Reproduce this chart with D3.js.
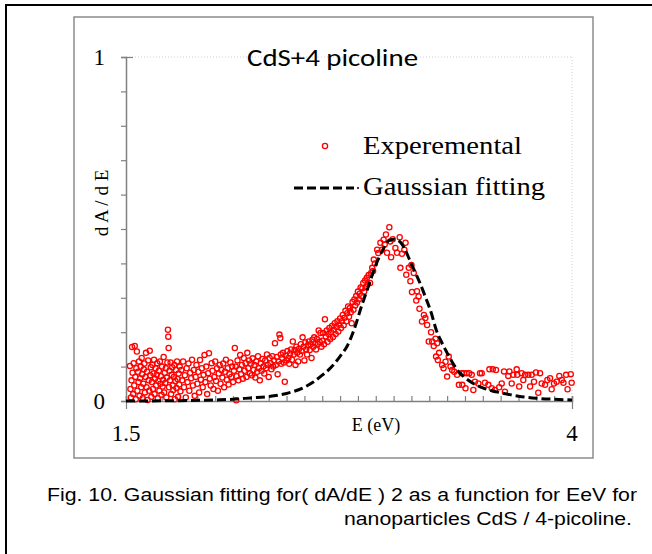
<!DOCTYPE html>
<html>
<head>
<meta charset="utf-8">
<script src="https://cdn.jsdelivr.net/npm/d3@7"></script>
<style>
  body { margin: 0; background: #fff; }
  svg { display: block; }
</style>
</head>
<body>
<div class="site-wrapper-inner"></div>
<script>
var experimental = [
 [1.522,0.102],[1.525,0.035],[1.528,0.010],[1.531,0.060],[1.534,0.157],[1.537,0.082],[1.540,0.020],[1.543,0.110],
 [1.546,0.045],[1.549,0.160],[1.552,0.070],[1.555,0.005],[1.558,0.095],[1.561,0.144],[1.564,0.030],[1.567,0.085],
 [1.570,0.055],[1.573,0.115],[1.576,0.015],[1.579,0.066],[1.582,0.100],[1.585,0.040],[1.588,0.125],[1.591,0.078],
 [1.594,0.008],[1.597,0.050],[1.600,0.092],[1.603,0.109],[1.606,0.025],[1.609,0.070],[1.612,0.140],[1.615,0.040],
 [1.618,0.085],[1.621,0.003],[1.624,0.118],[1.627,0.060],[1.630,0.030],[1.633,0.146],[1.636,0.075],[1.639,0.098],
 [1.642,0.012],[1.645,0.055],[1.648,0.105],[1.651,0.035],[1.654,0.080],[1.657,0.120],[1.660,0.020],[1.663,0.065],
 [1.666,0.095],[1.669,0.045],[1.672,0.076],[1.675,0.110],[1.678,0.008],[1.681,0.058],[1.684,0.088],[1.687,0.030],
 [1.690,0.115],[1.693,0.050],[1.696,0.072],[1.699,0.018],[1.702,0.100],[1.705,0.042],[1.708,0.062],[1.711,0.128],
 [1.714,0.025],[1.717,0.082],[1.720,0.052],[1.723,0.095],[1.726,0.010],[1.729,0.068],[1.732,0.112],[1.735,0.207],
 [1.737,0.187],[1.739,0.154],[1.741,0.040],[1.744,0.088],[1.747,0.060],[1.750,0.112],[1.753,0.020],[1.756,0.076],
 [1.759,0.098],[1.762,0.045],[1.765,0.032],[1.768,0.070],[1.771,0.105],[1.774,0.005],[1.777,0.058],[1.780,0.090],
 [1.783,0.038],[1.786,0.115],[1.789,0.064],[1.792,0.012],[1.795,0.080],[1.798,0.048],[1.801,0.100],
 [1.805,0.028],[1.810,0.090],[1.815,0.060],[1.820,0.115],[1.825,0.040],[1.830,0.075],[1.835,0.010],[1.840,0.095],
 [1.845,0.055],[1.850,0.109],[1.855,0.030],[1.860,0.082],[1.865,0.066],[1.870,0.120],[1.875,0.045],[1.880,0.090],
 [1.885,0.015],[1.890,0.070],[1.895,0.105],[1.900,0.050],[1.905,0.085],[1.910,0.025],[1.915,0.119],[1.920,0.062],
 [1.925,0.095],[1.930,0.040],[1.935,0.076],[1.940,0.134],[1.945,0.055],[1.950,0.100],[1.955,0.020],[1.960,0.081],
 [1.965,0.139],[1.970,0.065],[1.975,0.045],[1.980,0.110],[1.985,0.088],[1.990,0.035],[1.995,0.070],[2.000,0.115],
 [2.005,0.058],[2.010,0.095],[2.015,0.030],[2.020,0.080],[2.025,0.105],[2.030,0.050],[2.035,0.090],[2.040,0.068],
 [2.045,0.109],[2.050,0.040],[2.055,0.085],[2.060,0.120],[2.065,0.062],[2.070,0.095],[2.075,0.048],[2.080,0.078],
 [2.085,0.112],[2.090,0.070],[2.095,0.100],[2.100,0.055],[2.105,0.088],[2.110,0.154],[2.115,0.100],[2.118,0.002],
 [2.120,0.072],[2.125,0.118],[2.130,0.060],[2.135,0.092],[2.140,0.134],[2.145,0.078],[2.150,0.105],[2.155,0.065],
 [2.160,0.125],[2.165,0.088],[2.170,0.110],[2.175,0.070],[2.180,0.140],[2.185,0.095],[2.190,0.118],[2.195,0.080],
 [2.200,0.109],
 [2.205,0.075],[2.210,0.124],[2.215,0.090],[2.220,0.105],[2.225,0.068],[2.230,0.115],[2.235,0.085],[2.240,0.130],
 [2.245,0.095],[2.250,0.060],[2.255,0.110],[2.260,0.088],[2.265,0.122],[2.270,0.100],[2.275,0.080],[2.280,0.118],
 [2.285,0.095],[2.290,0.135],[2.295,0.105],[2.300,0.070],[2.305,0.125],[2.310,0.110],[2.315,0.092],[2.320,0.130],
 [2.325,0.100],[2.330,0.118],[2.335,0.168],[2.340,0.105],[2.345,0.128],[2.350,0.078],[2.355,0.115],[2.360,0.193],
 [2.365,0.183],[2.368,0.135],[2.370,0.108],[2.375,0.125],[2.380,0.140],[2.385,0.112],[2.390,0.056],[2.395,0.132],
 [2.400,0.118],[2.405,0.145],[2.410,0.125],[2.415,0.108],[2.420,0.138],[2.425,0.150],[2.430,0.120],[2.435,0.173],
 [2.440,0.135],[2.445,0.148],[2.450,0.105],[2.455,0.158],[2.460,0.140],[2.465,0.115],[2.470,0.152],[2.475,0.135],
 [2.480,0.165],[2.485,0.145],[2.490,0.185],[2.495,0.158],[2.500,0.118],[2.505,0.170],[2.510,0.150],[2.515,0.135],
 [2.520,0.162],[2.525,0.173],[2.530,0.148],[2.535,0.165],[2.540,0.125],[2.545,0.178],[2.550,0.158],[2.555,0.185],
 [2.560,0.168],[2.565,0.150],[2.570,0.180],[2.575,0.165],[2.580,0.205],[2.585,0.172],[2.590,0.198],[2.595,0.158],
 [2.600,0.175],[2.605,0.198],[2.610,0.165],[2.615,0.238],[2.620,0.188],[2.625,0.205],[2.630,0.172],[2.635,0.195],
 [2.640,0.212],[2.645,0.180],[2.650,0.200],[2.655,0.218],[2.660,0.186],[2.665,0.207],[2.670,0.226],[2.675,0.195],
 [2.680,0.215],[2.685,0.232],[2.690,0.202],[2.695,0.222],[2.700,0.240],[2.705,0.212],[2.710,0.232],[2.715,0.250],
 [2.720,0.220],[2.725,0.242],[2.730,0.262],[2.735,0.232],[2.740,0.255],[2.745,0.275],[2.750,0.245],[2.755,0.270],
 [2.760,0.258],[2.765,0.226],[2.770,0.288],[2.775,0.265],[2.780,0.295],[2.785,0.278],[2.790,0.305],[2.795,0.286],
 [2.800,0.318],[2.805,0.296],[2.810,0.312],[2.815,0.330],[2.820,0.305],[2.825,0.328],[2.830,0.343],[2.835,0.318],
 [2.840,0.350],[2.845,0.332],[2.850,0.358],[2.855,0.340],[2.860,0.366],[2.868,0.343],
 [2.874,0.372],[2.880,0.387],[2.885,0.378],[2.889,0.411],[2.895,0.400],[2.908,0.440],[2.914,0.430],[2.926,0.460],
 [2.935,0.440],[2.944,0.469],[2.950,0.455],[2.957,0.484],[2.963,0.431],[2.976,0.505],[2.981,0.464],[2.986,0.418],
 [2.995,0.470],[3.010,0.445],[3.019,0.431],[3.034,0.476],[3.038,0.387],[3.047,0.428],[3.060,0.440],[3.067,0.460],
 [3.071,0.367],[3.085,0.387],[3.094,0.348],[3.100,0.395],[3.113,0.372],[3.103,0.317],[3.131,0.319],[3.140,0.304],
 [3.127,0.292],[3.145,0.268],[3.159,0.231],[3.170,0.250],[3.178,0.241],[3.188,0.221],[3.197,0.173],[3.210,0.200],
 [3.216,0.173],[3.225,0.160],[3.235,0.181],[3.244,0.168],[3.238,0.129],[3.248,0.119],[3.255,0.140],[3.272,0.105],
 [3.280,0.095],[3.291,0.114],[3.300,0.071],[3.309,0.129],[3.319,0.100],[3.328,0.090],[3.340,0.085],[3.356,0.076],
 [3.366,0.047],[3.382,0.081],[3.385,0.047],[3.394,0.081],[3.403,0.037],[3.410,0.081],[3.424,0.081],[3.438,0.076],
 [3.447,0.032],[3.456,0.056],[3.475,0.051],[3.484,0.081],[3.494,0.081],[3.512,0.053],[3.531,0.047],[3.537,0.092],
 [3.550,0.037],[3.556,0.092],[3.568,0.032],[3.574,0.090],[3.592,0.040],[3.606,0.051],[3.619,0.086],[3.624,0.027],
 [3.643,0.073],[3.649,0.086],[3.662,0.051],[3.671,0.076],[3.690,0.092],[3.693,0.076],[3.704,0.042],[3.718,0.081],
 [3.727,0.061],[3.737,0.076],[3.755,0.076],[3.765,0.042],[3.774,0.076],[3.787,0.056],[3.798,0.083],[3.811,0.024],
 [3.821,0.081],[3.830,0.051],[3.849,0.047],[3.862,0.061],[3.877,0.066],[3.886,0.034],[3.899,0.051],[3.914,0.056],
 [3.929,0.073],[3.943,0.061],[3.952,0.053],[3.967,0.076],[3.975,0.034],[3.993,0.078],[3.998,0.053]
];

// gaussian fitting curve [E (eV), dA/dE]
var gaussFit = [
 [1.50,0.000],[1.80,0.001],[2.00,0.003],[2.10,0.005],[2.20,0.009],[2.30,0.013],[2.40,0.022],[2.50,0.040],
 [2.55,0.055],[2.60,0.075],[2.65,0.098],[2.70,0.130],[2.74,0.160],[2.78,0.210],[2.82,0.275],[2.86,0.335],
 [2.90,0.395],[2.94,0.440],[2.97,0.465],[3.00,0.470],[3.03,0.465],[3.06,0.445],[3.09,0.410],[3.12,0.375],
 [3.15,0.340],[3.18,0.300],[3.21,0.258],[3.24,0.205],[3.27,0.170],[3.30,0.140],[3.33,0.112],[3.36,0.088],
 [3.40,0.068],[3.45,0.050],[3.50,0.038],[3.55,0.030],[3.60,0.024],[3.70,0.014],[3.80,0.008],[3.90,0.005],
 [4.00,0.003]
];

var xTicks = [1.5, 4];
var yTicks = [0, 1];
var legendNames = ["Experemental", "Gaussian fitting"];

var w = 652, h = 554;
var serif = "'Liberation Serif', 'Times New Roman', serif";

var svg = d3.select(".site-wrapper-inner")
	.append("svg")
	.attr("width", w)
	.attr("height", h);

// outer page frame and the chart box
svg.append("rect")
	.attr("x", 6).attr("y", 5)
	.attr("width", 660).attr("height", 560)
	.attr("fill", "none")
	.attr("stroke", "#000")
	.attr("stroke-width", 2);
svg.append("rect")
	.attr("x", 74).attr("y", 17)
	.attr("width", 519).attr("height", 441)
	.attr("fill", "none")
	.attr("stroke", "#8c8c8c")
	.attr("stroke-width", 1.5);

var x = d3.scaleLinear().domain([1.5, 4]).range([126, 572]);
var y = d3.scaleLinear().domain([0, 1]).range([401, 57]);

// dotted top gridline and right edge
svg.append("line")
	.attr("x1", x(1.5)).attr("x2", x(4))
	.attr("y1", y(1)).attr("y2", y(1))
	.attr("stroke", "#d0d0d0").attr("stroke-dasharray", "1,2");
svg.append("line")
	.attr("x1", x(4)).attr("x2", x(4))
	.attr("y1", y(1)).attr("y2", y(0))
	.attr("stroke", "#d0d0d0").attr("stroke-dasharray", "1,2");

// axes
var yAxis = svg.append("g")
	.attr("transform", "translate(" + x(1.5) + ",0)")
	.call(d3.axisLeft(y).ticks(10).tickSize(5).tickFormat(""));
var xAxis = svg.append("g")
	.attr("transform", "translate(0," + y(0) + ")")
	.call(d3.axisBottom(x).ticks(25).tickSize(-5).tickFormat(""));
[yAxis, xAxis].forEach(function(a) {
	a.select(".domain").attr("stroke", "#808080").attr("stroke-width", 1.5);
	a.selectAll(".tick line").attr("stroke", "#808080").attr("stroke-width", 1.2);
});
// end ticks on the x axis reach down, top y tick crosses the axis
xAxis.selectAll(".tick")
	.filter(function(d) { return d === 1.5 || d === 4; })
	.select("line").attr("y1", -5).attr("y2", 8);
yAxis.selectAll(".tick")
	.filter(function(d) { return d === 1; })
	.select("line").attr("x1", 7);

svg.selectAll(".ylab")
	.data(yTicks)
	.enter()
		.append("text")
		.attr("class", "ylab")
		.attr("x", 105)
		.attr("y", function(d) { return y(d) + 8; })
		.attr("text-anchor", "end")
		.style("font-family", serif)
		.style("font-size", "23px")
		.text(function(d) { return d; });
svg.selectAll(".xlab")
	.data(xTicks)
	.enter()
		.append("text")
		.attr("class", "xlab")
		.attr("x", function(d) { return x(d); })
		.attr("y", 441)
		.attr("text-anchor", "middle")
		.style("font-family", serif)
		.style("font-size", "23px")
		.text(function(d) { return d; });

svg.append("text")
	.attr("x", 376).attr("y", 431)
	.attr("text-anchor", "middle")
	.style("font-family", serif)
	.style("font-size", "18px")
	.text("E (eV)");
svg.append("text")
	.attr("transform", "translate(108,203) rotate(-90)")
	.attr("text-anchor", "middle")
	.style("font-family", serif)
	.style("font-size", "19px")
	.text("d A / d E");

svg.append("text")
	.attr("x", 247).attr("y", 66)
	.attr("textLength", 171)
	.attr("lengthAdjust", "spacingAndGlyphs")
	.style("font-family", "Carlito, Lato, sans-serif")
	.style("font-size", "25px")
	.text("CdS+4 picoline");

// data
var line = d3.line()
	.x(function(d) { return x(d[0]); })
	.y(function(d) { return y(d[1]); })
	.curve(d3.curveMonotoneX);

var dots = svg.selectAll(".dot")
	.data(experimental)
	.enter()
		.append("circle")
		.attr("class", "dot")
		.attr("r", 2.6)
		.attr("cx", function(d) { return x(d[0]); })
		.attr("cy", function(d) { return y(d[1]); })
		.attr("fill", "none")
		.attr("stroke", "#ff0000")
		.attr("stroke-width", 1.3);

svg.append("path")
	.datum(gaussFit)
	.attr("d", line)
	.attr("fill", "none")
	.attr("stroke", "#000")
	.attr("stroke-width", 3)
	.attr("stroke-dasharray", "9,4");

// legend
svg.append("circle")
	.attr("cx", 325).attr("cy", 146).attr("r", 2.6)
	.attr("fill", "none").attr("stroke", "#ff0000").attr("stroke-width", 1.3);
svg.append("line")
	.attr("x1", 294).attr("x2", 354)
	.attr("y1", 188).attr("y2", 188)
	.attr("stroke", "#000").attr("stroke-width", 3)
	.attr("stroke-dasharray", "9,4");
svg.append("circle")
	.attr("cx", 358).attr("cy", 188).attr("r", 1)
	.attr("fill", "#000");
svg.selectAll(".leg")
	.data(legendNames)
	.enter()
		.append("text")
		.attr("class", "leg")
		.attr("x", 363)
		.attr("y", function(d, i) { return 154 + i * 41; })
		.attr("textLength", function(d, i) { return i == 0 ? 159 : 182; })
		.attr("lengthAdjust", "spacingAndGlyphs")
		.style("font-family", serif)
		.style("font-size", "26px")
		.text(function(d) { return d; });

// caption
svg.append("text")
	.attr("x", 47).attr("y", 501)
	.attr("textLength", 590)
	.attr("lengthAdjust", "spacingAndGlyphs")
	.style("font-family", "'Liberation Sans', Arial, sans-serif")
	.style("font-size", "17.5px")
	.text("Fig. 10. Gaussian fitting for( dA/dE ) 2 as a function for EeV for");
svg.append("text")
	.attr("x", 344).attr("y", 525)
	.attr("textLength", 288)
	.attr("lengthAdjust", "spacingAndGlyphs")
	.style("font-family", "'Liberation Sans', Arial, sans-serif")
	.style("font-size", "17.5px")
	.text("nanoparticles CdS / 4-picoline.");
</script>
</body>
</html>
